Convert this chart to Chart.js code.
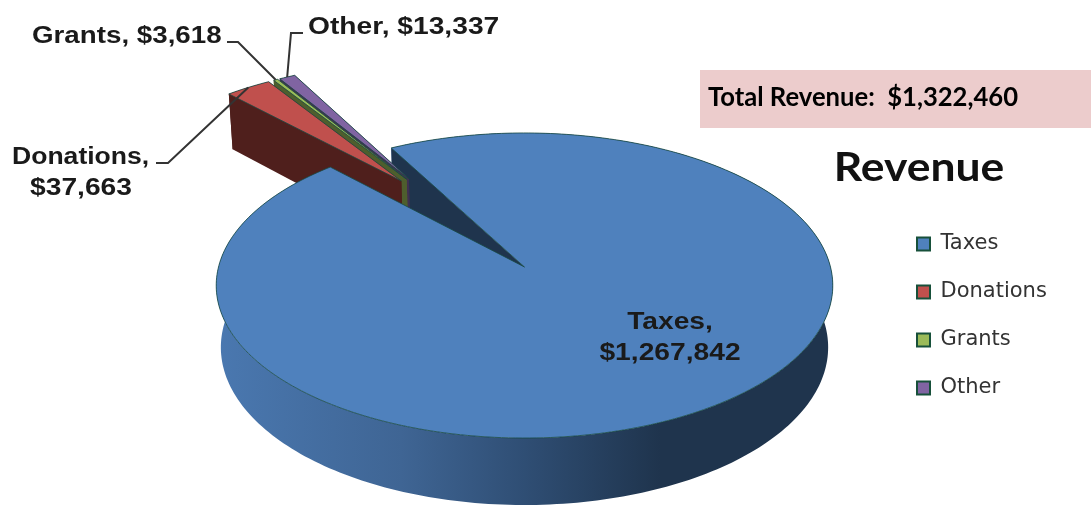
<!DOCTYPE html>
<html>
<head>
<meta charset="utf-8">
<script src="https://cdn.jsdelivr.net/npm/chart.js@4"></script>
<style>
  html, body { margin: 0; padding: 0; background: #fff; }
  canvas { display: block; }
</style>
</head>
<body>
<canvas id="pie" width="1091" height="505"></canvas>
<script>
// data
const categories = ['Taxes', 'Donations', 'Grants', 'Other'];
const revenue = [1267842, 37663, 3618, 13337];
const totalLabel = 'Total Revenue:  $1,322,460';
const chartTitle = 'Revenue';

// colours
const topColors = ['#4f81bd', '#c0504d', '#9bbb59', '#8064a2'];
const wallColors = ['#1f344d', '#4f1f1c', '#4e5e2d', '#3f3151'];
const edgeColor = 'rgba(22, 72, 66, 0.8)';

// projection of the disc: far edge y=133, near edge y=438, left/right 216/833
const X0 = 524.5, Y0 = 267, B = 306, A = 150.3, C = 62.4, K = 0.1213, M = 0.015;
function project(u, v, z) {
    const w = 1 - K * v + M * z;
    return { x: X0 + B * u / w, y: Y0 + (A * v + C * z) / w };
}

const EXPLODE = 0.752; // pull of the three small slices, in radii
const SPREAD = 0.3;    // how much each small slice keeps its own direction
const TURN = 0.045;    // direction of the pull against the middle of the group

function sliceGeometry(meta) {
    const els = meta.data;
    const groupMid = (els[1].startAngle + els[els.length - 1].endAngle) / 2 + TURN;
    return els.map((el, i) => {
        let ox = 0, oy = 0;
        if (i > 0) {
            const own = (el.startAngle + el.endAngle) / 2;
            const dir = groupMid + SPREAD * (own - groupMid);
            ox = Math.cos(dir) * EXPLODE;
            oy = Math.sin(dir) * EXPLODE;
        }
        return { start: el.startAngle, end: el.endAngle, ox, oy };
    });
}

function arcPoints(s, z) {
    const pts = [];
    const steps = Math.max(2, Math.ceil((s.end - s.start) / 0.02));
    for (let i = 0; i <= steps; i++) {
        const a = s.start + (s.end - s.start) * i / steps;
        pts.push(project(s.ox + Math.cos(a), s.oy + Math.sin(a), z));
    }
    return pts;
}

function fillPoly(ctx, pts, fill, stroke) {
    ctx.beginPath();
    pts.forEach((p, i) => i ? ctx.lineTo(p.x, p.y) : ctx.moveTo(p.x, p.y));
    ctx.closePath();
    ctx.fillStyle = fill;
    ctx.fill();
    if (stroke) {
        ctx.strokeStyle = stroke;
        ctx.lineWidth = 1;
        ctx.stroke();
    }
}

function drawRadialWall(ctx, s, angle, fill) {
    const c0 = project(s.ox, s.oy, 0), c1 = project(s.ox, s.oy, 1);
    const e0 = project(s.ox + Math.cos(angle), s.oy + Math.sin(angle), 0);
    const e1 = project(s.ox + Math.cos(angle), s.oy + Math.sin(angle), 1);
    fillPoly(ctx, [c0, e0, e1, c1], fill);
}

function drawArcWall(ctx, s, fill) {
    fillPoly(ctx, arcPoints(s, 0).concat(arcPoints(s, 1).reverse()), fill);
}

function drawTop(ctx, s, fill) {
    fillPoly(ctx, [project(s.ox, s.oy, 0)].concat(arcPoints(s, 0)), fill, edgeColor);
}

// stretched label, the reference text is wider than it is tall
function wideText(ctx, text, x, y, sx, align) {
    ctx.save();
    ctx.translate(x, y);
    ctx.scale(sx, 1);
    ctx.textAlign = align;
    ctx.textBaseline = 'middle';
    ctx.fillText(text, 0, 0);
    ctx.restore();
}

function leader(ctx, pts) {
    ctx.beginPath();
    pts.forEach((p, i) => i ? ctx.lineTo(p.x, p.y) : ctx.moveTo(p.x, p.y));
    ctx.strokeStyle = '#333';
    ctx.lineWidth = 2;
    ctx.stroke();
}

const money = v => '$' + v.toLocaleString('en-US');

const pie3d = {
    id: 'pie3d',
    afterLayout(chart) {
        // legend sits where the reference has it
        const lg = chart.legend;
        const w = lg.width, h = lg.height;
        lg.left = 890; lg.right = 890 + w;
        lg.top = 206.5; lg.bottom = 206.5 + h;
    },
    beforeDatasetDraw(chart, args) {
        const ctx = chart.ctx;
        const slices = sliceGeometry(args.meta);
        const taxes = slices[0];

        // taxes: outer wall, then the wall facing the gap
        const g = ctx.createLinearGradient(216, 0, 833, 0);
        g.addColorStop(0, '#4a78b0');
        g.addColorStop(0.3, '#3f6594');
        g.addColorStop(0.5, '#2f4e74');
        g.addColorStop(0.72, '#1f344d');
        g.addColorStop(1, '#1f344d');
        drawArcWall(ctx, taxes, g);
        drawRadialWall(ctx, taxes, taxes.start, wallColors[0]);

        // small slices, far ones first
        for (let i = slices.length - 1; i > 0; i--) {
            const s = slices[i];
            drawRadialWall(ctx, s, s.end, wallColors[i]);
            drawArcWall(ctx, s, wallColors[i]);
            drawRadialWall(ctx, s, s.start, wallColors[i]);
            drawTop(ctx, s, topColors[i]);
        }
        drawTop(ctx, taxes, topColors[0]);
        return false; // the flat arcs are replaced by the projected ones
    },
    afterDraw(chart) {
        const ctx = chart.ctx;
        const slices = sliceGeometry(chart.getDatasetMeta(0));
        const outer = i => {
            const s = slices[i], a = (s.start + s.end) / 2;
            return project(s.ox + Math.cos(a), s.oy + Math.sin(a), 0);
        };

        ctx.save();
        // total box
        ctx.fillStyle = '#eccccc';
        ctx.fillRect(700, 70, 391, 58);
        ctx.fillStyle = '#000';
        ctx.font = 'bold 26px Lato';
        wideText(ctx, totalLabel, 708, 98, 0.985, 'left');
        ctx.fillStyle = '#111';
        ctx.font = 'bold 40px Lato';
        wideText(ctx, chartTitle, 919, 168, 1.11, 'center');

        // leader lines
        leader(ctx, [{ x: 156, y: 163 }, { x: 168, y: 163 }, outer(1)]);
        leader(ctx, [{ x: 227, y: 42 }, { x: 238, y: 42 }, outer(2)]);
        leader(ctx, [{ x: 303, y: 33 }, { x: 291, y: 33 }, outer(3)]);

        // data labels
        ctx.fillStyle = '#1a1a1a';
        ctx.font = 'bold 23.5px "Liberation Sans"';
        wideText(ctx, categories[2] + ', ' + money(revenue[2]), 32, 37, 1.18, 'left');
        wideText(ctx, categories[3] + ', ' + money(revenue[3]), 308, 28, 1.2, 'left');
        wideText(ctx, categories[1] + ',', 12, 158, 1.13, 'left');
        wideText(ctx, money(revenue[1]), 81, 189, 1.2, 'center');
        wideText(ctx, categories[0] + ',', 670, 323, 1.2, 'center');
        wideText(ctx, money(revenue[0]), 670, 354, 1.2, 'center');
        ctx.restore();
    }
};

new Chart(document.getElementById('pie'), {
    type: 'pie',
    data: {
        labels: categories,
        datasets: [{
            data: revenue,
            backgroundColor: topColors,
            borderColor: '#17503a',
            borderWidth: 2
        }]
    },
    options: {
        responsive: false,
        animation: false,
        rotation: -28.8,
        plugins: {
            legend: {
                position: 'right',
                align: 'start',
                labels: {
                    boxWidth: 13,
                    boxHeight: 13,
                    padding: 27,
                    color: '#333',
                    font: { family: 'DejaVu Sans', size: 21 }
                }
            },
            tooltip: { enabled: false }
        }
    },
    plugins: [pie3d]
});
</script>
</body>
</html>
